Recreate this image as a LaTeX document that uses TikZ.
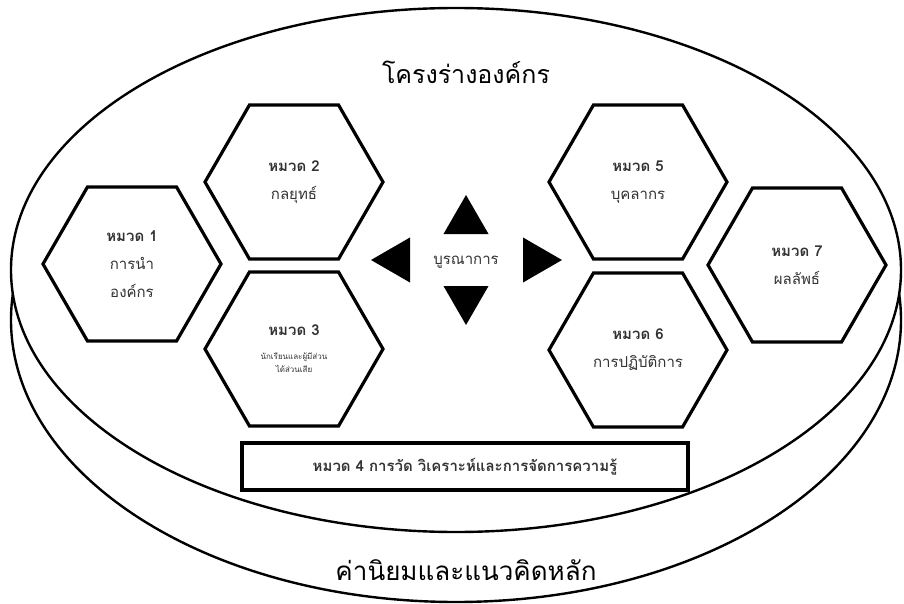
\documentclass[tikz,border=0pt]{standalone}
\usepackage{fontspec}
\newfontfamily\thaifont[Script=Thai]{Loma}
\usetikzlibrary{shapes.geometric}

\begin{document}
\begin{tikzpicture}[x=1pt,y=-1pt,
  hexCell/.style={regular polygon,regular polygon sides=6,minimum size=178pt,
    inner sep=0pt,draw,line width=3.2pt,fill=white,align=center,
    text=hexText,font=\thaifont\fontsize{15}{28}\selectfont},
  triMark/.style={regular polygon,regular polygon sides=3,minimum size=52pt,
    inner sep=0pt,fill=black}]
\definecolor{hexText}{HTML}{333333}
\useasboundingbox[fill=white] (0,0) rectangle (904,604);
% base and top of the disc
\draw[line width=2.4pt,fill=white] (456,320) ellipse [x radius=445,y radius=282];
\draw[line width=2.4pt,fill=white] (456,270) ellipse [x radius=445,y radius=262];
\node[font=\thaifont\fontsize{25}{30}\selectfont] (titleFrame) at (466,72) {โครงร่างองค์กร};
\node[font=\thaifont\fontsize{26}{30}\selectfont] (titleValues) at (466,570) {ค่านิยมและแนวคิดหลัก};
% the seven categories
\node[hexCell] (hexLead) at (132,264) {\textbf{หมวด 1}\\การนำ\\องค์กร};
\node[hexCell] (hexPlan) at (294,182) {\textbf{หมวด 2}\\กลยุทธ์};
\node[hexCell] (hexClient) at (294,349) {\textbf{หมวด 3}\\[-4pt]{\fontsize{8}{9}\selectfont นักเรียนและผู้มีส่วน}\\[-15pt]{\fontsize{8}{9}\selectfont ได้ส่วนเสีย}};
\node[hexCell] (hexStaff) at (638,182) {\textbf{หมวด 5}\\บุคลากร};
\node[hexCell] (hexOps) at (638,350) {\textbf{หมวด 6}\\การปฏิบัติการ};
\node[hexCell] (hexResult) at (797,265) {\textbf{หมวด 7}\\ผลลัพธ์};
\node[draw,line width=3.2pt,fill=white,minimum width=446pt,minimum height=47pt,
  text=hexText,font=\thaifont\bfseries\fontsize{15}{16}\selectfont] (boxMeasure) at (465,466.5)
  {หมวด 4 การวัด วิเคราะห์และการจัดการความรู้};
% integration marks
\node[text=hexText,font=\thaifont\fontsize{15}{16}\selectfont] (midJoin) at (466,262) {บูรณาการ};
\node[triMark] (triUp) at (466,221) {};
\node[triMark,shape border rotate=180] (triDown) at (466,299) {};
\node[triMark,shape border rotate=90] (triLeft) at (397,260) {};
\node[triMark,shape border rotate=-90] (triRight) at (536,260) {};
\end{tikzpicture}
\end{document}
